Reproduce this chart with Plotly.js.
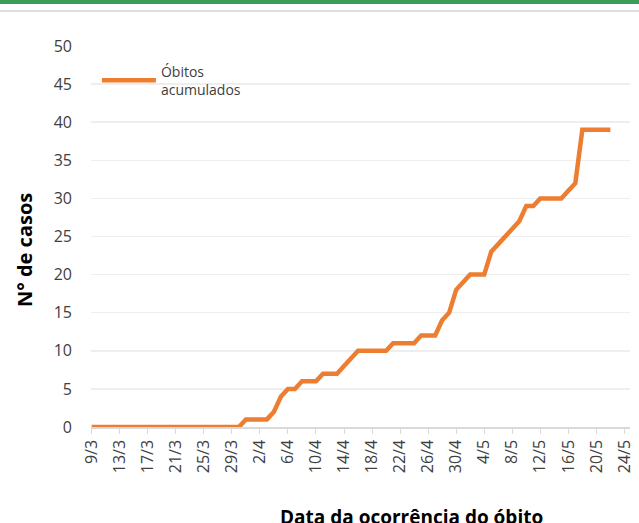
<!DOCTYPE html>
<html>
<head>
<meta charset="utf-8">
<script src="https://cdn.plot.ly/plotly-3.0.1.min.js"></script>
<style>
  html, body { margin: 0; padding: 0; background: #fff; }
  #wrap { position: relative; width: 639px; height: 523px; overflow: hidden; }
  #chart { position: absolute; left: 0; top: 0; width: 639px; height: 523px; }
  #topbar { position: absolute; left: 0; top: 0; width: 639px; height: 4px; background: #3b9b59; z-index: 5; }
  #topline { position: absolute; left: 0; top: 10px; width: 639px; height: 2px; background: #dedede; z-index: 5; }
</style>
</head>
<body>
<div id="wrap">
  <div id="chart"></div>
  <div id="topbar"></div>
  <div id="topline"></div>
</div>
<script>
// All dates on the category axis (9/3 .. 24/5)
const dates = [
  "9/3","10/3","11/3","12/3","13/3","14/3","15/3","16/3","17/3","18/3","19/3","20/3","21/3","22/3","23/3","24/3","25/3","26/3","27/3","28/3","29/3","30/3","31/3",
  "1/4","2/4","3/4","4/4","5/4","6/4","7/4","8/4","9/4","10/4","11/4","12/4","13/4","14/4","15/4","16/4","17/4","18/4","19/4","20/4","21/4","22/4","23/4","24/4","25/4","26/4","27/4","28/4","29/4","30/4",
  "1/5","2/5","3/5","4/5","5/5","6/5","7/5","8/5","9/5","10/5","11/5","12/5","13/5","14/5","15/5","16/5","17/5","18/5","19/5","20/5","21/5","22/5","23/5","24/5"
];
// Tick labels shown on the axis
const tickLabels = ["9/3","13/3","17/3","21/3","25/3","29/3","2/4","6/4","10/4","14/4","18/4","22/4","26/4","30/4","4/5","8/5","12/5","16/5","20/5","24/5"];
// Cumulative deaths, 9/3 .. 22/5
const obitos = [
  0,0,0,0,0,0,0,0,0,0,0,0,0,0,0,0,0,0,0,0,0,0,1,
  1,1,1,2,4,5,5,6,6,6,7,7,7,8,9,10,10,10,10,10,11,11,11,11,12,12,12,14,15,18,
  19,20,20,20,23,24,25,26,27,29,29,30,30,30,30,31,32,39,39,39,39,39
];
const xData = dates.slice(0, obitos.length);

const FONT = 'Segoe UI, Open Sans, Noto Sans, sans-serif';

const trace = {
  x: xData, y: obitos, type: 'scatter', mode: 'lines',
  name: 'Óbitos<br>acumulados',
  line: { color: '#ED7D31', width: 4.5 }
};

const layout = {
  width: 639, height: 523,
  margin: { l: 91, r: 9, t: 46, b: 96 },
  paper_bgcolor: '#fff', plot_bgcolor: '#fff',
  font: { family: FONT, color: '#404040' },
  showlegend: true,
  legend: {
    x: 0.011, y: 0.975, xanchor: 'left', yanchor: 'top',
    bgcolor: 'rgba(255,255,255,0)', font: { size: 14, color: '#404040', family: FONT },
    itemwidth: 54, tracegroupgap: 0
  },
  xaxis: {
    type: 'category', categoryorder: 'array', categoryarray: dates,
    range: [-0.1, 76.8],
    tickmode: 'array', tickvals: tickLabels, ticktext: tickLabels,
    tickangle: -90, tickfont: { size: 16, color: '#404040', family: FONT },
    ticks: 'outside', ticklen: 5, tickcolor: '#d9d9d9',
    showline: true, linecolor: '#d9d9d9', linewidth: 1.5,
    showgrid: false, zeroline: false, fixedrange: true
  },
  yaxis: {
    range: [0, 50], dtick: 5, tick0: 0,
    tickfont: { size: 16, color: '#404040', family: FONT },
    showgrid: true, gridcolor: '#eeeeee', gridwidth: 1.5,
    zeroline: false, showline: false, ticks: '', ticklabelstandoff: 18,
    fixedrange: true
  },
  annotations: [
    { xref: 'paper', yref: 'paper', x: -0.122, y: 0.465, xanchor: 'center', yanchor: 'middle',
      textangle: -90, text: '<b>N° de casos</b>', showarrow: false,
      font: { size: 20, color: '#000', family: FONT } },
    { xref: 'paper', yref: 'paper', x: 0.594, y: -0.198, xanchor: 'center', yanchor: 'top',
      text: '<b>Data da ocorrência do óbito</b>', showarrow: false,
      font: { size: 19, color: '#000', family: FONT } }
  ]
};

Plotly.newPlot('chart', [trace], layout, { displayModeBar: false, staticPlot: true });
</script>
</body>
</html>
